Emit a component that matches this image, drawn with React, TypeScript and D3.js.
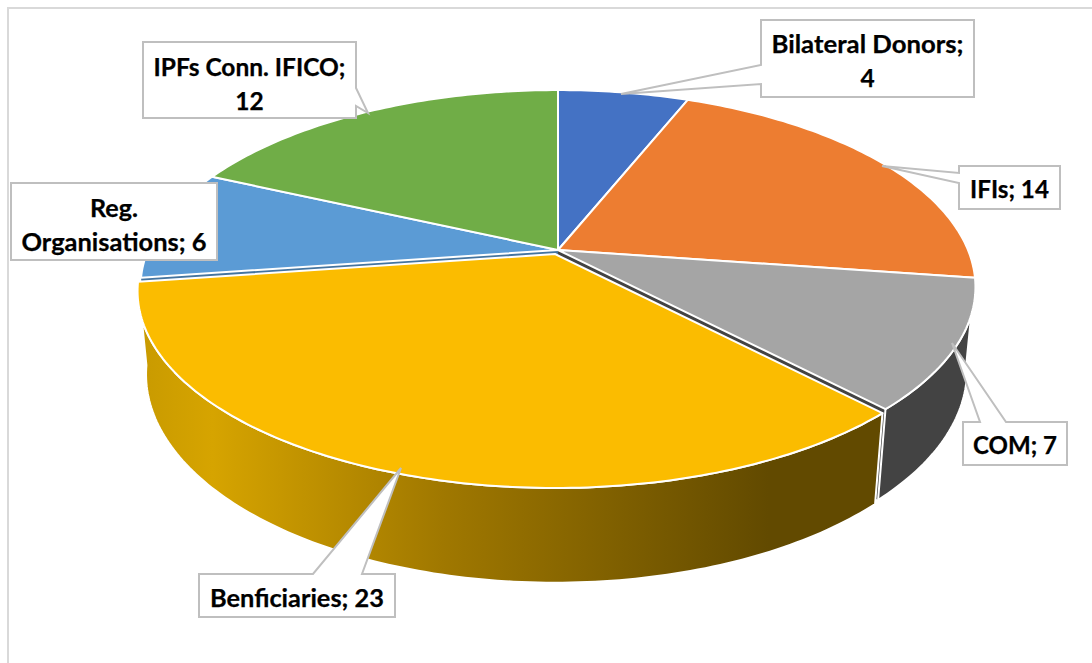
import React from "react";
import * as d3 from "d3";

const categories = ["Bilateral Donors", "IFIs", "COM", "Benficiaries", "Reg. Organisations", "IPFs Conn. IFICO"];
const values = [4, 14, 7, 23, 6, 12];
const topColors = ["#4472c4", "#ed7d31", "#a5a5a5", "#fbbc00", "#5b9bd5", "#70ad47"];

// explosion offset of each slice in screen pixels
const offsetsX = [0, 0, 0, -3, 0, 0];
const offsetsY = [0, 0, 0, 4, 0, 0];

// callouts: box, tail, text lines
type Callout = {
  box: [number, number, number, number];
  tail: [number, number][];
  after: number;
  lines: string[];
  lineY: number[];
  lineW: (number | undefined)[];
};
const callouts: Callout[] = [
  { box: [761, 20, 974, 97], tail: [[761, 84], [621, 94], [761, 65]], after: 3, lines: ["Bilateral Donors;", "4"], lineY: [43, 77], lineW: [192, undefined] },
  { box: [959, 166, 1060, 209], tail: [[959, 183], [882, 166], [959, 173]], after: 3, lines: ["IFIs; 14"], lineY: [188], lineW: [79] },
  { box: [963, 422, 1067, 465], tail: [[980, 422], [952, 343], [1006, 422]], after: 0, lines: ["COM; 7"], lineY: [444], lineW: [84] },
  { box: [199, 574, 395, 617], tail: [[313, 574], [401, 468], [362, 574]], after: 0, lines: ["Benficiaries; 23"], lineY: [597], lineW: [174] },
  { box: [11, 183, 217, 260], tail: [], after: 0, lines: ["Reg.", "Organisations; 6"], lineY: [207, 241], lineW: [48, 185] },
  { box: [143, 42, 356, 118], tail: [[356, 88], [368, 113], [356, 106]], after: 1, lines: ["IPFs Conn. IFICO;", "12"], lineY: [66, 100], lineW: [192, undefined] },
];

const W = 1092;
const H = 663;
const CX = 558;
const CY = 250;
const B = 410; // horizontal radius at centre line
const A = 190; // vertical scale
const K = 0.188; // perspective
const DEPTH_C = 83.5;
const DEPTH_M = 0.02;

type Pt = [number, number];

function project(angle: number, radius: number, h: number, dx: number, dy: number): Pt {
  const u = Math.sin(angle) * radius;
  const v = -Math.cos(angle) * radius;
  const w = 1 - K * v + DEPTH_M * h;
  return [CX + (B * u) / w + dx, CY + (A * v + DEPTH_C * h) / w + dy];
}

const lineGen = d3.line<Pt>();

function arcPoints(a0: number, a1: number, h: number, dx: number, dy: number): Pt[] {
  const n = Math.max(8, Math.ceil((a1 - a0) * 60));
  return d3.range(n + 1).map((i) => project(a0 + ((a1 - a0) * i) / n, 1, h, dx, dy));
}

export default function App() {
  const pie = d3.pie<number>().sort(null).startAngle(0).endAngle(2 * Math.PI);
  const arcs = pie(values);

  const top = (i: number) => {
    const a = arcs[i];
    const dx = offsetsX[i];
    const dy = offsetsY[i];
    return lineGen([project(0, 0, 0, dx, dy), ...arcPoints(a.startAngle, a.endAngle, 0, dx, dy)]) + "Z";
  };
  const side = (i: number) => {
    const a = arcs[i];
    const dx = offsetsX[i];
    const dy = offsetsY[i];
    return lineGen([
      ...arcPoints(a.startAngle, a.endAngle, 0, dx, dy),
      ...arcPoints(a.startAngle, a.endAngle, 1, dx, dy).reverse(),
    ]) + "Z";
  };
  const wall = (angle: number, dx: number, dy: number) =>
    lineGen([
      project(0, 0, 0, dx, dy),
      project(angle, 1, 0, dx, dy),
      project(angle, 1, 1, dx, dy),
      project(0, 0, 1, dx, dy),
    ]) + "Z";

  const comIdx = categories.indexOf("COM");
  const benIdx = categories.indexOf("Benficiaries");
  const regIdx = categories.indexOf("Reg. Organisations");

  return (
    <svg
      width={W}
      height={H}
      viewBox={`0 0 ${W} ${H}`}
      style={{ position: "absolute", left: 0, top: 0, display: "block", background: "#fff" }}
    >
      <defs>
        <linearGradient id="benSide" gradientUnits="userSpaceOnUse" x1={138} y1={0} x2={880} y2={0}>
          <stop offset="0" stopColor="#c89a00" />
          <stop offset="0.1" stopColor="#d6a400" />
          <stop offset="0.41" stopColor="#a07800" />
          <stop offset="0.85" stopColor="#624a00" />
          <stop offset="1" stopColor="#624a00" />
        </linearGradient>
      </defs>

      <path d="M8,663V8H1092" fill="none" stroke="#d9d9d9" strokeWidth={2} />

      {/* inner walls seen through the gaps */}
      <path d={wall(arcs[regIdx].startAngle, 0, 0)} fill="#44749f" />
      <path d={wall(arcs[comIdx].endAngle, 0, 0)} fill="#434343" />

      {/* outer walls */}
      <path d={side(comIdx)} fill="#434343" stroke="#fff" strokeWidth={2} strokeLinejoin="round" />
      <path d={side(benIdx)} fill="url(#benSide)" stroke="#fff" strokeWidth={2} strokeLinejoin="round" />

      {/* top faces */}
      {arcs.map((_, i) => (
        <path key={categories[i]} d={top(i)} fill={topColors[i]} stroke="#fff" strokeWidth={2} strokeLinejoin="round" />
      ))}

      {/* callouts */}
      {callouts.map((c, i) => {
        const [x0, y0, x1, y1] = c.box;
        const corners: Pt[] = [[x0, y0], [x1, y0], [x1, y1], [x0, y1]];
        const pts: Pt[] = [];
        corners.forEach((p, k) => {
          pts.push(p);
          if (k === c.after) c.tail.forEach((t) => pts.push(t));
        });
        return (
          <g key={i}>
            <path d={lineGen(pts) + "Z"} fill="#fff" stroke="#bfbfbf" strokeWidth={2} strokeLinejoin="miter" />
            {c.lines.map((t, k) => (
              <text
                key={k}
                x={(x0 + x1) / 2}
                y={c.lineY[k]}
                textAnchor="middle"
                dominantBaseline="central"
                fontFamily="Lato, 'Open Sans', sans-serif"
                fontWeight={700}
                fontSize={24.5}
                fill="#000"
                stroke="#000"
                strokeWidth={0.25}
                textLength={c.lineW[k]}
                lengthAdjust="spacingAndGlyphs"
              >
                {t}
              </text>
            ))}
          </g>
        );
      })}
    </svg>
  );
}
